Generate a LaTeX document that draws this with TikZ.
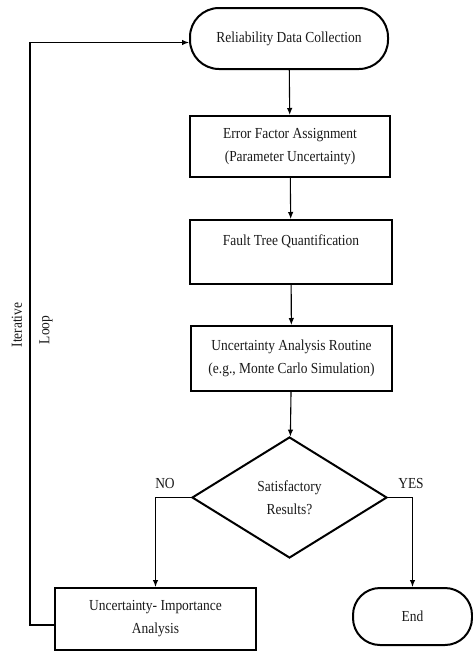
\documentclass[tikz,border=0pt]{standalone}
\usepackage{fontspec}
\setmainfont[FakeStretch=0.88]{Liberation Serif}
\usetikzlibrary{shapes.geometric,arrows.meta}
\begin{document}
\begin{tikzpicture}[x=1pt,y=-1pt,
  every node/.style={font=\fontsize{15.3}{23}\selectfont, text=black!90},
  boxstyle/.style={draw=black, line width=2pt, rectangle, align=center, inner sep=0pt},
  termstyle/.style={draw=black, line width=2pt, rectangle, rounded corners=29pt, align=center, inner sep=0pt},
  diastyle/.style={draw=black, line width=2pt, diamond, aspect=1.6, align=center, inner sep=0pt, minimum width=195pt, minimum height=121pt},
  arr/.style={line width=1.1pt, -{Latex[length=7pt,width=5.5pt]}},
  lbl/.style={font=\fontsize{15.3}{23}\selectfont}
]
\useasboundingbox (0,0) rectangle (473,651);
\node[termstyle, minimum width=198pt, minimum height=61pt] (start) at (289,38.5) {Reliability Data Collection};
\node[boxstyle, minimum width=200pt, minimum height=61pt] (b2) at (290,146.5) {Error Factor Assignment\\(Parameter Uncertainty)};
\node[boxstyle, minimum width=202pt, minimum height=64pt] (b3) at (291,252) {Fault Tree Quantification\\~};
\node[boxstyle, minimum width=201pt, minimum height=65pt] (b4) at (291.5,358.5) {Uncertainty Analysis Routine\\(e.g., Monte Carlo Simulation)};
\node[diastyle] (dia) at (289.5,497.5) {Satisfactory\\Results?};
\node[boxstyle, minimum width=201pt, minimum height=62pt] (b5) at (155.5,619) {Uncertainty- Importance\\Analysis};
\node[termstyle, minimum width=119pt, minimum height=57pt, rounded corners=27pt] (end) at (412.5,616.5) {End};

\draw[arr] (start) -- (b2);
\draw[arr] (b2) -- (b3);
\draw[arr] (b3) -- (b4);
\draw[arr] (b4) -- (dia);
\draw[arr] (dia.west) -| (b5.north);
\draw[arr] (dia.east) -| (end.north);
\draw[arr] ([yshift=-6pt]b5.west) -- ++(-24,0) coordinate (lc) |- ([yshift=-4pt]start.west);

\node[lbl] (no) at (165,484) {NO};
\node[lbl] (yes) at (411,484) {YES};
\node[lbl, rotate=90] (it) at (17,325) {Iterative};
\node[lbl, rotate=90] (lp) at (46,330) {Loop};
\end{tikzpicture}
\end{document}
